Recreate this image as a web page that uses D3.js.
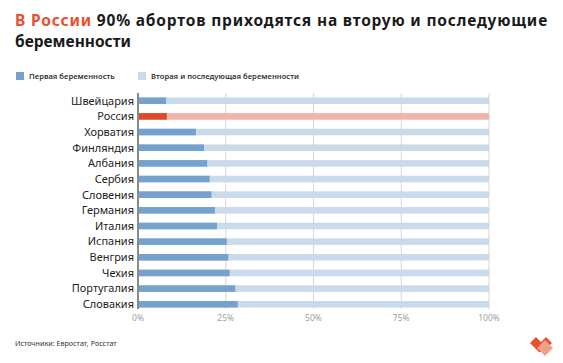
<!DOCTYPE html>
<html><head><meta charset="utf-8">
<script src="https://cdn.jsdelivr.net/npm/d3@7"></script>
<style>
body{margin:0;background:#fff;}
svg{display:block;font-family:"Noto Sans",sans-serif;}
</style></head>
<body><svg id="c" width="563" height="363"></svg>
<script>
const countries = ["Швейцария","Россия","Хорватия","Финляндия","Албания","Сербия","Словения","Германия","Италия","Испания","Венгрия","Чехия","Португалия","Словакия"];
const firstPregnancy = [8,8.2,16.5,18.8,19.7,20.4,20.9,21.9,22.5,25.3,25.7,26.1,27.7,28.4];
const tickValues = [0,25,50,75,100];
const tickLabels = ["0%","25%","50%","75%","100%"];
const legendLabels = ["Первая беременность","Вторая и последующая беременности"];
const highlight = "Россия";

const svg = d3.select("#c");
const x = d3.scaleLinear().domain([0,100]).range([138,489]);
const y = d3.scaleBand().domain(countries).range([92.9,312.1]).paddingInner(0.58).paddingOuter(0.29);

function fit(sel, target){
  const w = sel.node().getComputedTextLength();
  const fs = parseFloat(sel.attr("font-size"));
  const nfs = fs*target/w;
  sel.attr("font-size", nfs);
  return nfs;
}

// title (one text element, two lines)
const t = svg.append("text").attr("x",15).attr("y",25.5).attr("font-size",15.5).attr("font-weight",700).attr("fill","#1a1a1a");
const ta = t.append("tspan").attr("fill","#e8502e").text("В России");
const tb = t.append("tspan").text(" 90% абортов приходятся на вторую и последующие");
const w1 = ta.node().getComputedTextLength() + tb.node().getComputedTextLength();
const ls = Math.max(0, (533 - w1)/55);
ta.attr("letter-spacing", ls); tb.attr("letter-spacing", ls);
t.append("tspan").attr("x",15).attr("dy",21.2).text("беременности");

// legend
const lg = [{x:16,c:"#75a2cc"},{x:138,c:"#c9dbea"}];
const l0 = svg.append("text").attr("x",29).attr("y",79).attr("font-size",8).attr("font-weight",600).attr("fill","#333").text(legendLabels[0]);
const lfs = fit(l0, 86);
svg.append("text").attr("x",151).attr("y",79).attr("font-size",lfs).attr("font-weight",600).attr("fill","#333").text(legendLabels[1]);
lg.forEach(d=>{
  svg.append("rect").attr("x",d.x).attr("y",72).attr("width",8).attr("height",8).attr("fill",d.c);
});

// gridlines
svg.append("g").selectAll("line").data(tickValues.slice(1)).join("line")
  .attr("x1",d=>x(d)).attr("x2",d=>x(d)).attr("y1",93).attr("y2",309)
  .attr("stroke","#d6d6d6").attr("stroke-width",1);

// bars
const g = svg.append("g");
g.selectAll("rect.bg").data(countries).join("rect").attr("class","bg")
  .attr("x",x(0)).attr("y",d=>y(d)).attr("width",x(100)-x(0)).attr("height",y.bandwidth())
  .attr("fill",d=>d===highlight?"#f3b3a9":"#c9dbea");
g.selectAll("rect.fg").data(countries).join("rect").attr("class","fg")
  .attr("x",x(0)).attr("y",d=>y(d)).attr("width",(d,i)=>x(firstPregnancy[i])-x(0)).attr("height",y.bandwidth())
  .attr("fill",d=>d===highlight?"#e0492a":"#75a2cc");

// zero axis
svg.append("line").attr("x1",x(0)).attr("x2",x(0)).attr("y1",93).attr("y2",309).attr("stroke","#8a8a8a").attr("stroke-width",2);

// category labels
const probe = svg.append("text").attr("font-size",12.5).text(countries[0]);
const cfs = fit(probe, 63);
probe.remove();
svg.append("g").selectAll("text").data(countries).join("text")
  .attr("x",134).attr("y",d=>y(d)+y.bandwidth()/2).attr("dy","0.35em")
  .attr("text-anchor","end").attr("font-size",cfs).attr("fill","#222").text(d=>d);

// tick labels
svg.append("g").selectAll("text").data(tickValues).join("text")
  .attr("x",d=>x(d)).attr("y",321).attr("text-anchor","middle")
  .attr("font-size",8.5).attr("fill","#a0a0a0").text((d,i)=>tickLabels[i]);

// footer
const f = svg.append("text").attr("x",15).attr("y",346).attr("font-size",8.3).attr("fill","#333").text("Источники: Евростат, Росстат");
fit(f, 102);

// logo
const logo = svg.append("g");
logo.append("polygon").attr("points","530,343 536,337 541,342 546,337 552,343 543,352 539,352").attr("fill","#e8502e");
logo.append("polygon").attr("points","537,348 545,340 553,348 545,356").attr("fill","#f0a08a");
</script></body></html>
